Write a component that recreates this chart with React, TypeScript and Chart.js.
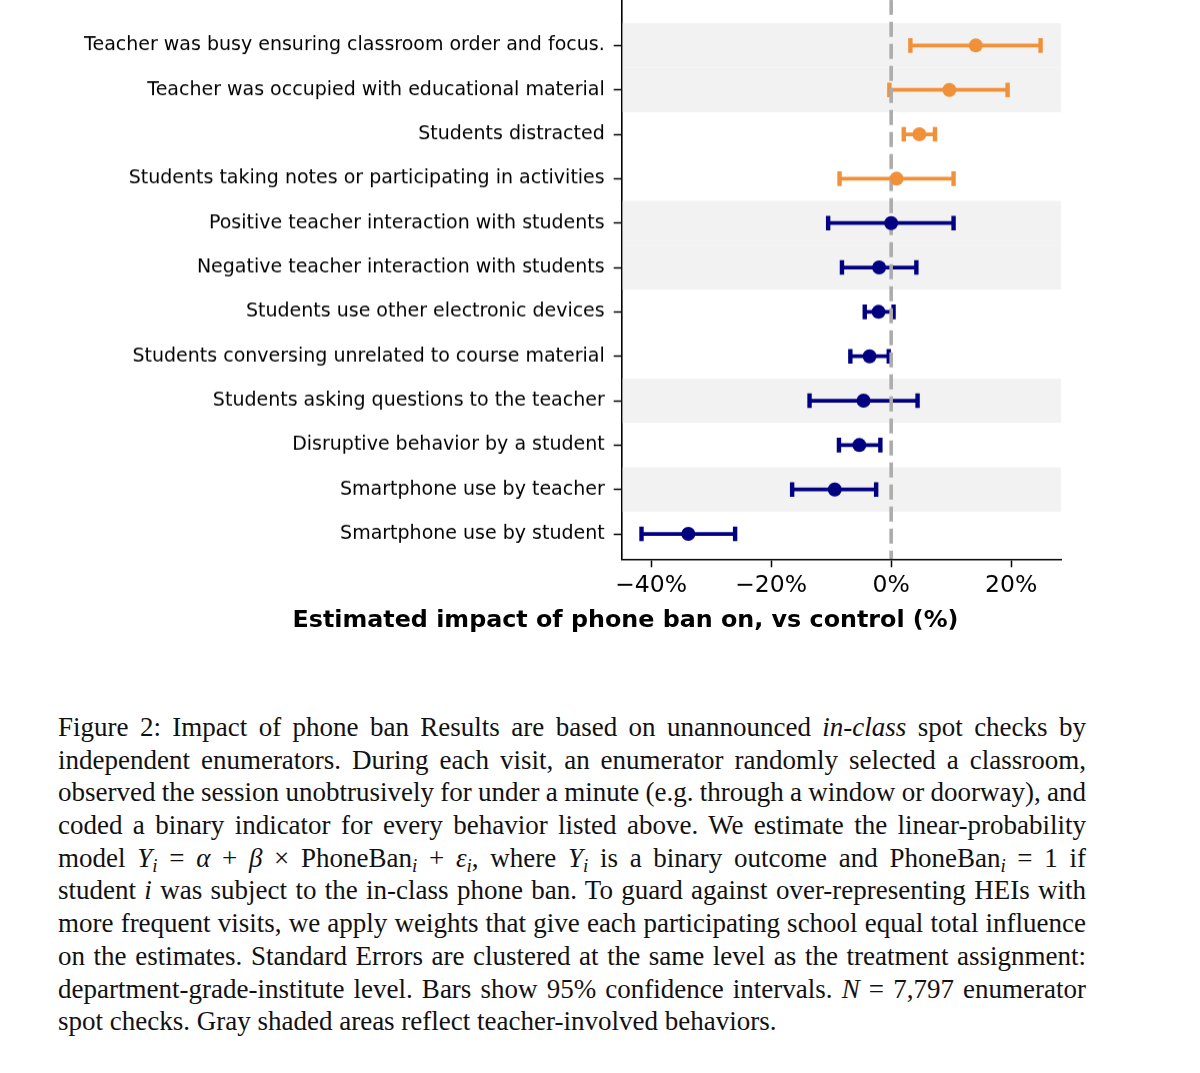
import React, { useEffect, useRef } from 'react';
import { Chart, registerables } from 'chart.js';

Chart.register(...registerables);

const labels = [
  'Teacher was busy ensuring classroom order and focus.',
  'Teacher was occupied with educational material',
  'Students distracted',
  'Students taking notes or participating in activities',
  'Positive teacher interaction with students',
  'Negative teacher interaction with students',
  'Students use other electronic devices',
  'Students conversing unrelated to course material',
  'Students asking questions to the teacher',
  'Disruptive behavior by a student',
  'Smartphone use by teacher',
  'Smartphone use by student',
];
const estimates = [14.1, 9.7, 4.7, 0.9, 0.0, -2.0, -2.1, -3.6, -4.6, -5.3, -9.4, -33.8];
const ciLow = [3.2, -0.3, 2.1, -8.6, -10.5, -8.2, -4.4, -6.8, -13.6, -8.7, -16.5, -41.6];
const ciHigh = [24.9, 19.4, 7.3, 10.4, 10.4, 4.2, 0.4, -0.4, 4.4, -1.8, -2.5, -26.0];
const orangeGroup = [true, true, true, true, false, false, false, false, false, false, false, false];
const teacherInvolved = [true, true, false, false, true, true, false, false, true, false, true, false];
const xTicks = [-40, -20, 0, 20];

const X_MIN = -44.9;
const X_MAX = 28.3;
const Y_TOP = -1.03;
const Y_BOTTOM = 11.57;

const ORANGE = '#f0913a';
const NAVY = '#000080';
const CANVAS_W = 1200;
const CAP_RADIUS = 7.3;
const CAP_WIDTH = 4.4;
const TOP_OVERFLOW = CAP_RADIUS + CAP_WIDTH; // Chart.js insets the chart area by the largest point overflow
const CANVAS_H = 650 + TOP_OVERFLOW;

const rowColor = (i: number) => (orangeGroup[i] ? ORANGE : NAVY);

const whiskerData = (flag: boolean) => {
  const d: any[] = [];
  labels.forEach((_, i) => {
    if (orangeGroup[i] !== flag) return;
    d.push({ x: ciLow[i], y: i }, { x: ciHigh[i], y: i }, { x: null, y: null });
  });
  return d;
};

const shadePlugin = {
  id: 'shadeRows',
  beforeDatasetsDraw(chart: any) {
    const { ctx, chartArea, scales } = chart;
    const y = scales.y;
    ctx.save();
    ctx.fillStyle = '#f2f2f2';
    teacherInvolved.forEach((t, i) => {
      if (!t) return;
      const a = y.getPixelForValue(i - 0.5);
      const b = y.getPixelForValue(i + 0.5);
      ctx.fillRect(chartArea.left + 1, Math.min(a, b), chartArea.right - chartArea.left - 1, Math.abs(b - a));
    });
    ctx.restore();
  },
};

const serif = '"Liberation Serif", "DejaVu Serif", serif';

const Sub = ({ children }: { children: any }) => (
  <span style={{ fontSize: '0.7em', position: 'relative', top: '0.28em', lineHeight: 0 }}>{children}</span>
);

export default function App() {
  const ref = useRef<HTMLCanvasElement | null>(null);

  useEffect(() => {
    if (!ref.current) return;
    const tickFontY = { family: '"DejaVu Sans", sans-serif', size: 19 };
    const tickFontX = { family: '"DejaVu Sans", sans-serif', size: 23.5 };
    const chart = new Chart(ref.current, {
      type: 'scatter',
      data: {
        datasets: [
          {
            data: estimates.map((v, i) => ({ x: v, y: i })),
            pointRadius: 7,
            pointHoverRadius: 0,
            pointBackgroundColor: estimates.map((_, i) => rowColor(i)),
            pointBorderColor: estimates.map((_, i) => rowColor(i)),
            pointBorderWidth: 0,
            showLine: false,
            order: 0,
          } as any,
          {
            data: [{ x: 0, y: Y_TOP }, { x: 0, y: Y_BOTTOM }],
            showLine: true,
            borderColor: '#acacac',
            borderWidth: 3.6,
            borderDash: [15, 7],
            pointRadius: 0,
            pointHoverRadius: 0,
            order: 1,
          } as any,
          {
            data: labels.flatMap((_, i) => [{ x: ciLow[i], y: i }, { x: ciHigh[i], y: i }]),
            pointStyle: 'line',
            pointRotation: 90,
            pointRadius: CAP_RADIUS,
            pointHoverRadius: 0,
            pointBorderWidth: CAP_WIDTH,
            pointBorderColor: labels.flatMap((_, i) => [rowColor(i), rowColor(i)]),
            showLine: false,
            order: 2,
          } as any,
          {
            data: whiskerData(true),
            showLine: true,
            spanGaps: false,
            borderColor: ORANGE,
            borderWidth: 3.7,
            pointRadius: 0,
            pointHoverRadius: 0,
            order: 3,
          } as any,
          {
            data: whiskerData(false),
            showLine: true,
            spanGaps: false,
            borderColor: NAVY,
            borderWidth: 3.7,
            pointRadius: 0,
            pointHoverRadius: 0,
            order: 3,
          } as any,
        ],
      },
      options: {
        animation: false,
        responsive: false,
        events: [],
        layout: { padding: { left: 0, top: 0, right: CANVAS_W - 1061, bottom: 0 } },
        plugins: { legend: { display: false }, tooltip: { enabled: false } },
        scales: {
          x: {
            type: 'linear',
            min: X_MIN,
            max: X_MAX,
            afterBuildTicks: (s: any) => {
              s.ticks = xTicks.map((v) => ({ value: v }));
            },
            afterFit: (s: any) => {
              s.height = 650 - 559.3;
              s.paddingLeft = 0;
              s.paddingRight = 0;
            },
            ticks: {
              autoSkip: false,
              maxRotation: 0,
              color: '#000',
              font: tickFontX,
              padding: 4,
              callback: (v: any) => (v < 0 ? '\u2212' : '') + Math.abs(v) + '%',
            },
            grid: { drawOnChartArea: false, drawTicks: true, tickLength: 8, tickColor: '#000', tickWidth: 1.5 },
            border: { display: true, color: '#000', width: 1.6 },
          },
          y: {
            type: 'linear',
            reverse: true,
            min: Y_TOP,
            max: Y_BOTTOM,
            afterBuildTicks: (s: any) => {
              s.ticks = labels.map((_, i) => ({ value: i }));
            },
            afterFit: (s: any) => {
              s.width = 621.7;
              s.paddingTop = 0;
              s.paddingBottom = 0;
            },
            ticks: {
              autoSkip: false,
              color: '#000',
              font: tickFontY,
              padding: 9,
              callback: (v: any) => labels[v] ?? '',
            },
            grid: { drawOnChartArea: false, drawTicks: true, tickLength: 8, tickColor: '#000', tickWidth: 1.5 },
            border: { display: true, color: '#000', width: 1.6 },
          },
        },
      } as any,
      plugins: [shadePlugin],
    });
    return () => chart.destroy();
  }, []);

  const lineStyle = (last = false): React.CSSProperties => ({
    height: '32.7px',
    lineHeight: '32.7px',
    whiteSpace: 'nowrap',
    textAlign: last ? 'left' : 'justify',
    textAlignLast: last ? 'left' : 'justify',
    wordSpacing: last ? 'normal' : '-2px',
    overflow: 'visible',
  });

  return (
    <div>
      <div style={{ position: 'absolute', left: 0, top: -TOP_OVERFLOW, width: CANVAS_W, height: CANVAS_H }}>
        <canvas ref={ref} width={CANVAS_W} height={CANVAS_H} style={{ width: CANVAS_W, height: CANVAS_H, display: 'block' }} />
      </div>
      <div
        style={{
          position: 'absolute',
          left: 625.5,
          top: 607.6,
          transform: 'translateX(-50%)',
          whiteSpace: 'nowrap',
          fontFamily: '"DejaVu Sans", sans-serif',
          fontWeight: 'bold',
          fontSize: '23.8px',
          lineHeight: 1,
          color: '#000',
        }}
      >
        Estimated impact of phone ban on, vs control (%)
      </div>
      <div
        style={{
          position: 'absolute',
          left: 58,
          top: 711,
          width: 1028,
          fontFamily: serif,
          fontSize: '27px',
          color: '#111',
        }}
      >
        <div style={lineStyle()}>
          Figure 2: Impact of phone ban Results are based on unannounced <i>in-class</i> spot checks by
        </div>
        <div style={lineStyle()}>
          independent enumerators. During each visit, an enumerator randomly selected a classroom,
        </div>
        <div style={lineStyle()}>
          observed the session unobtrusively for under a minute (e.g. through a window or doorway), and
        </div>
        <div style={lineStyle()}>
          coded a binary indicator for every behavior listed above. We estimate the linear-probability
        </div>
        <div style={lineStyle()}>
          model <i>Y</i>
          <Sub><i>i</i></Sub> = <i>α</i> + <i>β</i> × PhoneBan<Sub><i>i</i></Sub> + <i>ε</i>
          <Sub><i>i</i></Sub>, where <i>Y</i>
          <Sub><i>i</i></Sub> is a binary outcome and PhoneBan<Sub><i>i</i></Sub> = 1 if
        </div>
        <div style={lineStyle()}>
          student <i>i</i> was subject to the in-class phone ban. To guard against over-representing HEIs with
        </div>
        <div style={lineStyle()}>
          more frequent visits, we apply weights that give each participating school equal total influence
        </div>
        <div style={lineStyle()}>
          on the estimates. Standard Errors are clustered at the same level as the treatment assignment:
        </div>
        <div style={lineStyle()}>
          department-grade-institute level. Bars show 95% confidence intervals. <i>N</i> = 7,797 enumerator
        </div>
        <div style={lineStyle(true)}>spot checks. Gray shaded areas reflect teacher-involved behaviors.</div>
      </div>
    </div>
  );
}
